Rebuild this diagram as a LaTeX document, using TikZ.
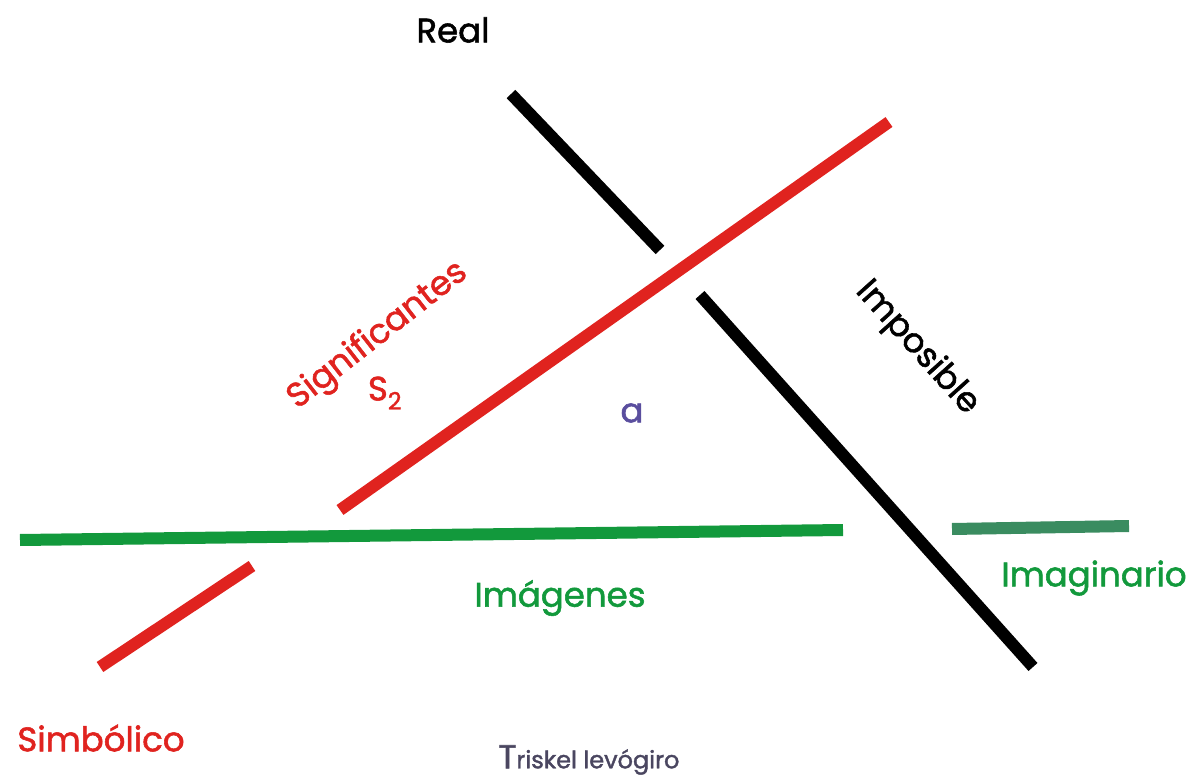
\documentclass[tikz,border=0pt]{standalone}
\usepackage{fontspec}
\setmainfont{Poppins}[FakeBold=1.6]
\definecolor{lred}{HTML}{E0231F}
\definecolor{lgreen}{HTML}{12993C}
\definecolor{lgreen2}{HTML}{3A8C60}
\definecolor{lpurple}{HTML}{5A4E9E}
\definecolor{lgray}{HTML}{4A4660}
\begin{document}
\begin{tikzpicture}[x=1pt,y=-1pt,
  bar/.style={line width=12pt},
  lbl/.style={inner sep=0pt,font=\fontsize{34}{36}\selectfont}]
\useasboundingbox (0,0) rectangle (1203,778);
% coordinates
\coordinate (k1) at (511,94);   \coordinate (k2) at (660,250);
\coordinate (k3) at (700,295);  \coordinate (k4) at (1033,667);
\coordinate (r1) at (340,510);  \coordinate (r2) at (889,122);
\coordinate (r3) at (100,667);  \coordinate (r4) at (252,566);
\coordinate (g1) at (20,540);   \coordinate (g2) at (843,530);
\coordinate (g3) at (952,529);  \coordinate (g4) at (1129,526);
% bars
\draw[bar,black] (k1) -- (k2);
\draw[bar,black] (k3) -- (k4);
\draw[bar,lred] (r1) -- (r2);
\draw[bar,lred] (r3) -- (r4);
\draw[bar,lgreen] (g1) -- (g2);
\draw[bar,lgreen2] (g3) -- (g4);
% labels
\node[lbl,text=black] (real) at (453,30) {Real};
\node[lbl,text=black,rotate=-48] (imp) at (917,348) {Imposible};
\node[lbl,text=lred,rotate=38] (sig) at (378,336) {Significantes};
\node[lbl,text=lred] (s2) at (385,393) {S\textsubscript{2}};
\node[lbl,text=lpurple] (a) at (632,413) {a};
\node[lbl,text=lgreen] (img) at (560,598) {Imágenes};
\node[lbl,text=lgreen] (imag) at (1094,578) {Imaginario};
\node[lbl,text=lred] (simb) at (101,738) {Simbólico};
\node[inner sep=0pt,text=lgray,font=\fontsize{24}{26}\selectfont] (trisk) at (589,760) {{\fontsize{33}{35}\selectfont T}riskel levógiro};
\end{tikzpicture}
\end{document}
